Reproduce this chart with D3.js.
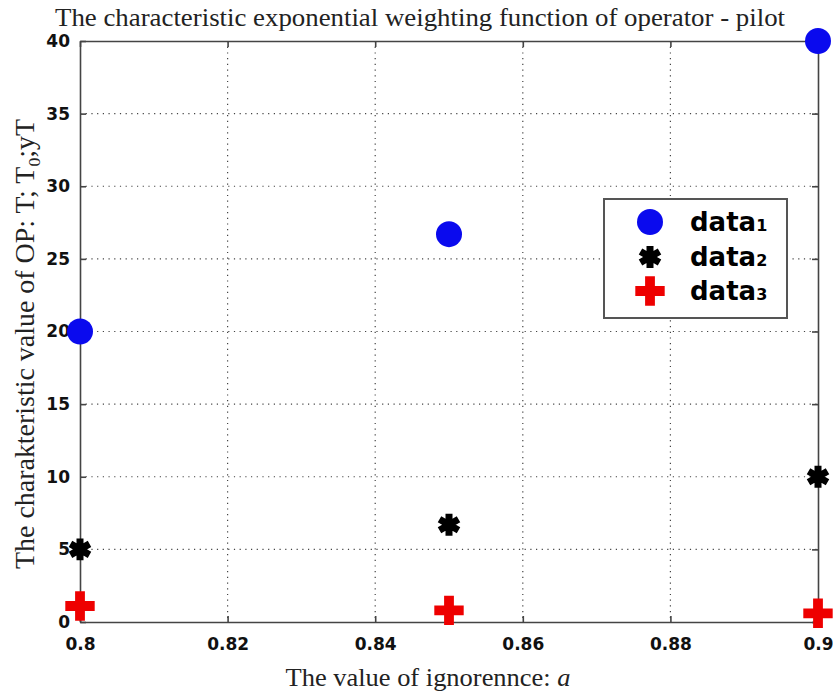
<!DOCTYPE html>
<html>
<head>
<meta charset="utf-8">
<script src="https://cdn.jsdelivr.net/npm/d3@7"></script>
<style>
  body { margin: 0; background: #fff; }
  svg { display: block; }
</style>
</head>
<body>
<script>
const xValues = [0.8, 0.85, 0.9];
const data1 = [20, 26.7, 40];
const data2 = [5, 6.7, 10];
const data3 = [1.1, 0.8, 0.6];
const xTicks = [0.8, 0.82, 0.84, 0.86, 0.88, 0.9];
const yTicks = [0, 5, 10, 15, 20, 25, 30, 35, 40];
const seriesNames = ['data', 'data', 'data'];

const svgWidth = 833;
const svgHeight = 697;
const margin = { top: 41, right: 15, bottom: 75, left: 80 };
const width = svgWidth - margin.left - margin.right;
const height = svgHeight - margin.top - margin.bottom;

const svg = d3.select('body').append('svg')
  .attr('width', svgWidth)
  .attr('height', svgHeight);

const g = svg.append('g')
  .attr('transform', `translate(${margin.left}, ${margin.top})`);

const x = d3.scaleLinear().domain([0.8, 0.9]).range([0, width]);
const y = d3.scaleLinear().domain([0, 40]).range([height, 0]);

// dotted grid
g.selectAll('.gx').data(xTicks.slice(1, -1)).enter().append('line')
  .attr('x1', d => x(d)).attr('x2', d => x(d))
  .attr('y1', 0).attr('y2', height)
  .attr('stroke', '#444').attr('stroke-width', 1.2)
  .attr('stroke-dasharray', '1.2,4.5');
g.selectAll('.gy').data(yTicks.slice(1, -1)).enter().append('line')
  .attr('x1', 0).attr('x2', width)
  .attr('y1', d => y(d)).attr('y2', d => y(d))
  .attr('stroke', '#444').attr('stroke-width', 1.2)
  .attr('stroke-dasharray', '1.2,4.5');

// axes
g.append('g')
  .attr('transform', `translate(0, ${height})`)
  .call(d3.axisBottom(x).tickValues(xTicks).tickSizeInner(-6).tickSizeOuter(0).tickPadding(16)
    .tickFormat(d => String(+d.toFixed(2))));
g.append('g')
  .call(d3.axisLeft(y).tickValues(yTicks).tickSizeInner(-6).tickSizeOuter(0).tickPadding(10));
g.append('g')
  .attr('transform', `translate(${width}, 0)`)
  .call(d3.axisRight(y).tickValues(yTicks).tickSizeInner(-6).tickSizeOuter(0).tickFormat(''));
g.append('g')
  .call(d3.axisTop(x).tickValues(xTicks).tickSizeInner(-6).tickSizeOuter(0).tickFormat(''));

g.selectAll('.domain, .tick line').attr('stroke', '#444').attr('stroke-width', 1.6);
g.selectAll('.tick text')
  .attr('font-family', 'DejaVu Sans, sans-serif')
  .attr('font-weight', 'bold')
  .attr('font-size', 17)
  .attr('fill', '#111');

// markers
const starPath = d3.symbol().type(d3.symbolAsterisk).size(340)();
const crossPath = d3.symbol().type(d3.symbolCross).size(480)();

g.selectAll('.d1').data(data1).enter().append('circle')
  .attr('cx', (d, i) => x(xValues[i]))
  .attr('cy', d => y(d))
  .attr('r', 13)
  .attr('fill', '#0a0aee');

g.selectAll('.d2').data(data2).enter().append('path')
  .attr('d', starPath)
  .attr('transform', (d, i) => `translate(${x(xValues[i])}, ${y(d)})`)
  .attr('fill', 'none')
  .attr('stroke', '#000')
  .attr('stroke-width', 7);

g.selectAll('.d3').data(data3).enter().append('path')
  .attr('d', crossPath)
  .attr('transform', (d, i) => `translate(${x(xValues[i])}, ${y(d)})`)
  .attr('fill', '#ee0000');

// legend
const legend = svg.append('g').attr('transform', 'translate(604, 199)');
legend.append('rect')
  .attr('width', 183).attr('height', 119)
  .attr('fill', '#fff').attr('stroke', '#555').attr('stroke-width', 2);
const rows = [23, 58, 92];
legend.append('circle').attr('cx', 46).attr('cy', rows[0]).attr('r', 13).attr('fill', '#0a0aee');
legend.append('path').attr('d', starPath).attr('transform', `translate(46, ${rows[1]})`)
  .attr('fill', 'none').attr('stroke', '#000').attr('stroke-width', 7);
legend.append('path').attr('d', crossPath).attr('transform', `translate(46, ${rows[2]})`)
  .attr('fill', '#ee0000');
seriesNames.forEach((name, i) => {
  const t = legend.append('text')
    .attr('x', 86).attr('y', rows[i] + 9)
    .attr('font-family', 'DejaVu Sans, sans-serif')
    .attr('font-weight', 'bold')
    .attr('font-size', 26)
    .attr('fill', '#000');
  t.append('tspan').text(name);
  t.append('tspan').attr('font-size', 16).text(String(i + 1));
});

// title
svg.append('text')
  .attr('x', 420).attr('y', 26)
  .attr('text-anchor', 'middle')
  .attr('font-family', 'Liberation Serif, serif')
  .attr('font-size', 26)
  .attr('textLength', 730)
  .attr('lengthAdjust', 'spacingAndGlyphs')
  .attr('fill', '#222')
  .text('The characteristic exponential weighting function of operator - pilot');

// x label
const xl = svg.append('text')
  .attr('x', 428).attr('y', 686)
  .attr('text-anchor', 'middle')
  .attr('font-family', 'Liberation Serif, serif')
  .attr('font-size', 26)
  .attr('textLength', 285)
  .attr('lengthAdjust', 'spacingAndGlyphs')
  .attr('fill', '#222');
xl.append('tspan').text('The value of ignorennce: ');
xl.append('tspan').attr('font-style', 'italic').text('a');

// y label
const yl = svg.append('text')
  .attr('transform', 'translate(34, 344) rotate(-90)')
  .attr('text-anchor', 'middle')
  .attr('font-family', 'Liberation Serif, serif')
  .attr('font-size', 27)
  .attr('textLength', 450)
  .attr('lengthAdjust', 'spacingAndGlyphs')
  .attr('fill', '#222');
yl.append('tspan').text('The charakteristic value of OP: T; T');
yl.append('tspan').attr('font-size', 17).attr('dy', 6).text('0');
yl.append('tspan').attr('dy', -6).text(';yT');
</script>
</body>
</html>
